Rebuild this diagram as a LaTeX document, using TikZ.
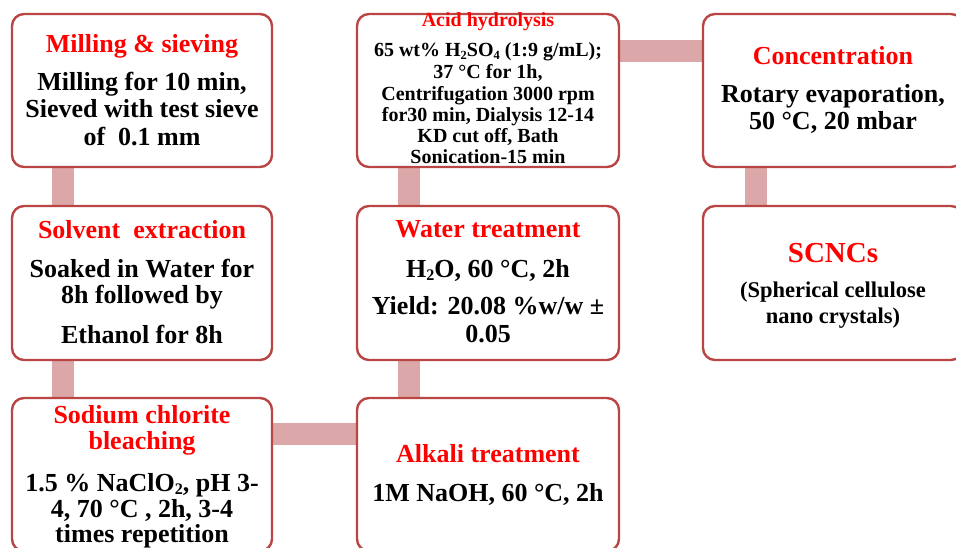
\documentclass[tikz,border=0pt]{standalone}
\usepackage{fontspec}
\setmainfont{Liberation Serif}
\usepackage{graphicx}
\usetikzlibrary{backgrounds}
\definecolor{boxred}{RGB}{185,70,68}
\definecolor{connpink}{RGB}{219,167,168}
\newcommand{\lsub}[1]{\raisebox{-0.12em}{\scalebox{0.62}{#1}}}
\begin{document}
\begin{tikzpicture}[x=1pt,y=-1pt,
  box/.style={draw=boxred, line width=2.4pt, fill=white, rounded corners=12pt, inner sep=0pt},
  lbox/.style={box, minimum width=260pt},
  mbox/.style={box, minimum width=262pt},
  conn/.style={draw=connpink, line width=22pt},
  ttl/.style={anchor=base, inner sep=0pt, text=red, font=\bfseries\fontsize{26}{26}\selectfont},
  txt/.style={anchor=base, inner sep=0pt, text=black, font=\bfseries\fontsize{26}{26}\selectfont},
  sttl/.style={anchor=base, inner sep=0pt, text=red, font=\bfseries\fontsize{20}{20}\selectfont},
  stxt/.style={anchor=base, inner sep=0pt, text=black, font=\bfseries\fontsize{20}{20}\selectfont},
  bttl/.style={anchor=base, inner sep=0pt, text=red, font=\bfseries\fontsize{29}{29}\selectfont},
  mtxt/.style={anchor=base, inner sep=0pt, text=black, font=\bfseries\fontsize{22.5}{22.5}\selectfont}
]
\useasboundingbox (0,0) rectangle (956,548);
\clip (0,0) rectangle (956,548);

% boxes
\node[lbox, minimum height=153pt] (b1) at (142,90.5) {};
\node[lbox, minimum height=154pt] (b2) at (142,283) {};
\node[lbox, minimum height=153pt] (b3) at (142,474.5) {};
\node[mbox, minimum height=153pt] (b4) at (488,90.5) {};
\node[mbox, minimum height=154pt] (b5) at (488,283) {};
\node[mbox, minimum height=153pt] (b6) at (488,474.5) {};
\node[lbox, minimum height=153pt] (b7) at (833,90.5) {};
\node[lbox, minimum height=154pt] (b8) at (833,283) {};

% connectors
\begin{scope}[on background layer]
\draw[conn] ([xshift=52pt]b1.south west) -- ([xshift=52pt]b2.north west);
\draw[conn] ([xshift=52pt]b2.south west) -- ([xshift=52pt]b3.north west);
\draw[conn] ([yshift=-37.5pt]b3.north east) -- ([yshift=-37.5pt]b6.north west);
\draw[conn] ([xshift=53.5pt]b6.north west) -- ([xshift=53.5pt]b5.south west);
\draw[conn] ([xshift=53.5pt]b5.north west) -- ([xshift=53.5pt]b4.south west);
\draw[conn] ([yshift=-38pt]b4.north east) -- ([yshift=-38pt]b7.north west);
\draw[conn] ([xshift=54pt]b7.south west) -- ([xshift=54pt]b8.north west);
\end{scope}

% Milling & sieving
\node[ttl] (t1) at (142,53) {Milling \& sieving};
\node[txt] (t1a) at (142,90.5) {Milling for 10 min,};
\node[txt] (t1b) at (142,118) {Sieved with test sieve};
\node[txt] (t1c) at (142,146) {of\ \ 0.1 mm};

% Solvent extraction
\node[ttl] (t2) at (142,239) {Solvent\ \ extraction};
\node[txt] (t2a) at (142,277) {Soaked in Water for};
\node[txt] (t2b) at (142,303) {8h followed by};
\node[txt] (t2c) at (142,343) {Ethanol for 8h};

% Sodium chlorite bleaching
\node[ttl] (t3) at (142,423) {Sodium chlorite};
\node[ttl] (t3x) at (142,449) {bleaching};
\node[txt] (t3a) at (142,491) {1.5 \% NaClO\lsub{2}, pH 3-};
\node[txt] (t3b) at (142,517) {4, 70 °C , 2h, 3-4};
\node[txt] (t3c) at (142,542) {times repetition};

% Acid hydrolysis
\node[sttl] (t4) at (488,27) {Acid hydrolysis};
\node[stxt] (t4a) at (488,57) {65 wt\% H\lsub{2}SO\lsub{4} (1:9 g/mL);};
\node[stxt] (t4b) at (488,79) {37 °C for 1h,};
\node[stxt] (t4c) at (488,101) {Centrifugation 3000 rpm};
\node[stxt] (t4d) at (488,122) {for30 min, Dialysis 12-14};
\node[stxt] (t4e) at (488,143) {KD cut off, Bath};
\node[stxt] (t4f) at (488,164) {Sonication-15 min};

% Water treatment
\node[ttl] (t5) at (488,238) {Water treatment};
\node[txt] (t5a) at (488,277) {H\lsub{2}O, 60 °C, 2h};
\node[txt] (t5b) at (488,314) {Yield: 20.08 \%w/w ±};
\node[txt] (t5c) at (488,342) {0.05};

% Alkali treatment
\node[ttl] (t6) at (488,462) {Alkali treatment};
\node[txt] (t6a) at (488,501) {1M NaOH, 60 °C, 2h};

% Concentration
\node[ttl] (t7) at (833,65) {Concentration};
\node[txt] (t7a) at (833,103) {Rotary evaporation,};
\node[txt] (t7b) at (833,130) {50 °C, 20 mbar};

% SCNCs
\node[bttl] (t8) at (833,262) {SCNCs};
\node[mtxt] (t8a) at (833,298) {(Spherical cellulose};
\node[mtxt] (t8b) at (833,323) {nano crystals)};
\end{tikzpicture}
\end{document}
